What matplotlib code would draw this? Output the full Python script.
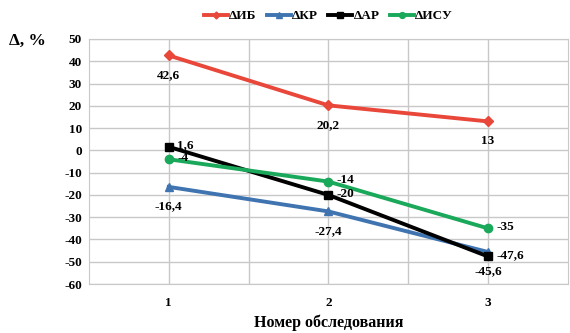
import matplotlib.pyplot as plt

# данные
surveys = [1, 2, 3]
d_ib = [42.6, 20.2, 13]
d_kr = [-16.4, -27.4, -45.6]
d_ar = [1.6, -20, -47.6]
d_isu = [-4, -14, -35]

plt.rcParams['font.family'] = ['Liberation Serif', 'DejaVu Serif']
plt.rcParams['font.weight'] = 'bold'
plt.rcParams['axes.labelweight'] = 'bold'
plt.rcParams['axes.unicode_minus'] = False

fig = plt.figure(figsize=(5.7, 3.33), dpi=100)
ax = fig.add_axes([0.156, 0.147, 0.84, 0.736])

series = [
    (d_ib, '#e8473a', 'D', 'ΔИБ', 5),
    (d_kr, '#3f74b1', '^', 'ΔКР', 6),
    (d_ar, '#000000', 's', 'ΔАР', 6),
    (d_isu, '#1aa85a', 'o', 'ΔИСУ', 6),
]
for vals, col, mk, name, ms in series:
    ax.plot(surveys, vals, color=col, marker=mk, markersize=ms, lw=2.8, label=name)

def fmt(v):
    return str(int(v)) if v == int(v) else str(v).replace('.', ',')

# подписи значений
for x, v in zip(surveys, d_ib):
    ax.annotate(fmt(v), (x, v), xytext=(0, -14), textcoords='offset points',
                ha='center', va='center', fontsize=9.5)
for x, v in zip(surveys, d_kr):
    ax.annotate(fmt(v), (x, v), xytext=(0, -14), textcoords='offset points',
                ha='center', va='center', fontsize=9.5)
for x, v in zip(surveys, d_ar):
    ax.annotate(fmt(v), (x, v), xytext=(6, 1), textcoords='offset points',
                ha='left', va='center', fontsize=9.5)
for x, v in zip(surveys, d_isu):
    ax.annotate(fmt(v), (x, v), xytext=(6, 1), textcoords='offset points',
                ha='left', va='center', fontsize=9.5)

ax.set_xlim(0.5, 3.5)
ax.set_ylim(-60, 50)
ax.set_yticks(range(-60, 51, 10))
ax.set_xticks(surveys)
ax.set_xticks([1.5, 2.5], minor=True)
ax.tick_params(which='both', length=0, labelsize=9.5)
ax.tick_params(axis='x', pad=9)
ax.tick_params(axis='y', pad=5)
ax.grid(True, which='both', color='#c8c8c8', lw=1)
ax.set_axisbelow(True)
for s in ax.spines.values():
    s.set_color('#c8c8c8')

ax.set_xlabel('Номер обследования', fontsize=11.5, labelpad=4)
fig.text(0.015, 0.865, 'Δ, %', fontsize=12.5)

ax.legend(loc='lower center', bbox_to_anchor=(0.5, 1.02), ncol=4, frameon=False,
          fontsize=9.5, handlelength=1.8, handletextpad=0.1, columnspacing=0.8,
          markerscale=0.7)

fig.savefig('out.png', dpi=100)
